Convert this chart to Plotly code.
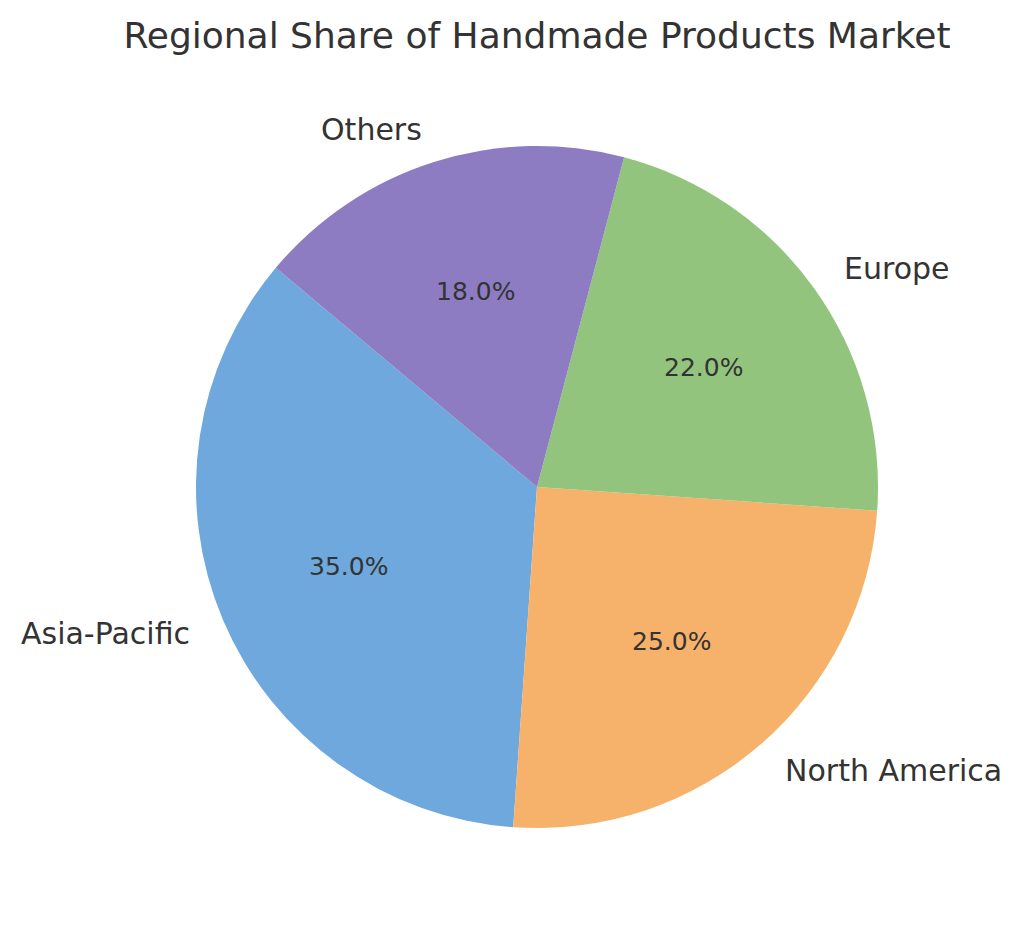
import math
import plotly.graph_objects as go

labels = ["Asia-Pacific", "North America", "Europe", "Others"]
values = [35, 25, 22, 18]
colors = ["#6fa8dc", "#f6b26b", "#93c47d", "#8e7cc3"]
title_text = "Regional Share of Handmade Products Market"

W, H = 1024, 932
OFF = 8  # page body margin offset
cx, cy, R = 537 - OFF, 487 - OFF, 341  # pie centre and radius in pixels
start_angle = 140  # degrees, counter-clockwise from +x

total = sum(values)
first_span = 360 * values[0] / total

fig = go.Figure()
fig.add_trace(go.Pie(
    labels=labels, values=values, sort=False,
    direction="counterclockwise", rotation=90 - start_angle - first_span,
    marker=dict(colors=colors, line=dict(width=0)),
    textinfo="none", hoverinfo="label+percent", showlegend=False,
    domain=dict(x=[(cx - R) / W, (cx + R) / W], y=[(H - cy - R) / H, (H - cy + R) / H]),
))

font_family = "DejaVu Sans"
ang = start_angle
for lab, v in zip(labels, values):
    span = 360 * v / total
    mid = math.radians(ang + span / 2)
    ang += span
    c, s = math.cos(mid), math.sin(mid)
    fig.add_annotation(
        x=(cx + 1.1 * R * c) / W, y=(H - cy + 1.1 * R * s) / H,
        xref="paper", yref="paper", text=lab, showarrow=False,
        xanchor="left" if c > 0 else "right", yanchor="middle",
        font=dict(family=font_family, size=30, color="#333333"),
    )
    fig.add_annotation(
        x=(cx + 0.6 * R * c) / W, y=(H - cy + 0.6 * R * s) / H,
        xref="paper", yref="paper", text=f"{100 * v / total:.1f}%", showarrow=False,
        xanchor="center", yanchor="middle",
        font=dict(family=font_family, size=25, color="#333333"),
    )

fig.update_layout(
    width=W, height=H,
    margin=dict(l=0, r=0, t=0, b=0),
    paper_bgcolor="white", plot_bgcolor="white",
    title=dict(text=title_text, x=(537 - OFF) / W, xanchor="center", y=1 - (35 - OFF) / H, yanchor="middle",
               font=dict(family=font_family, size=36, color="#333333")),
)

fig.write_html("out.html")
